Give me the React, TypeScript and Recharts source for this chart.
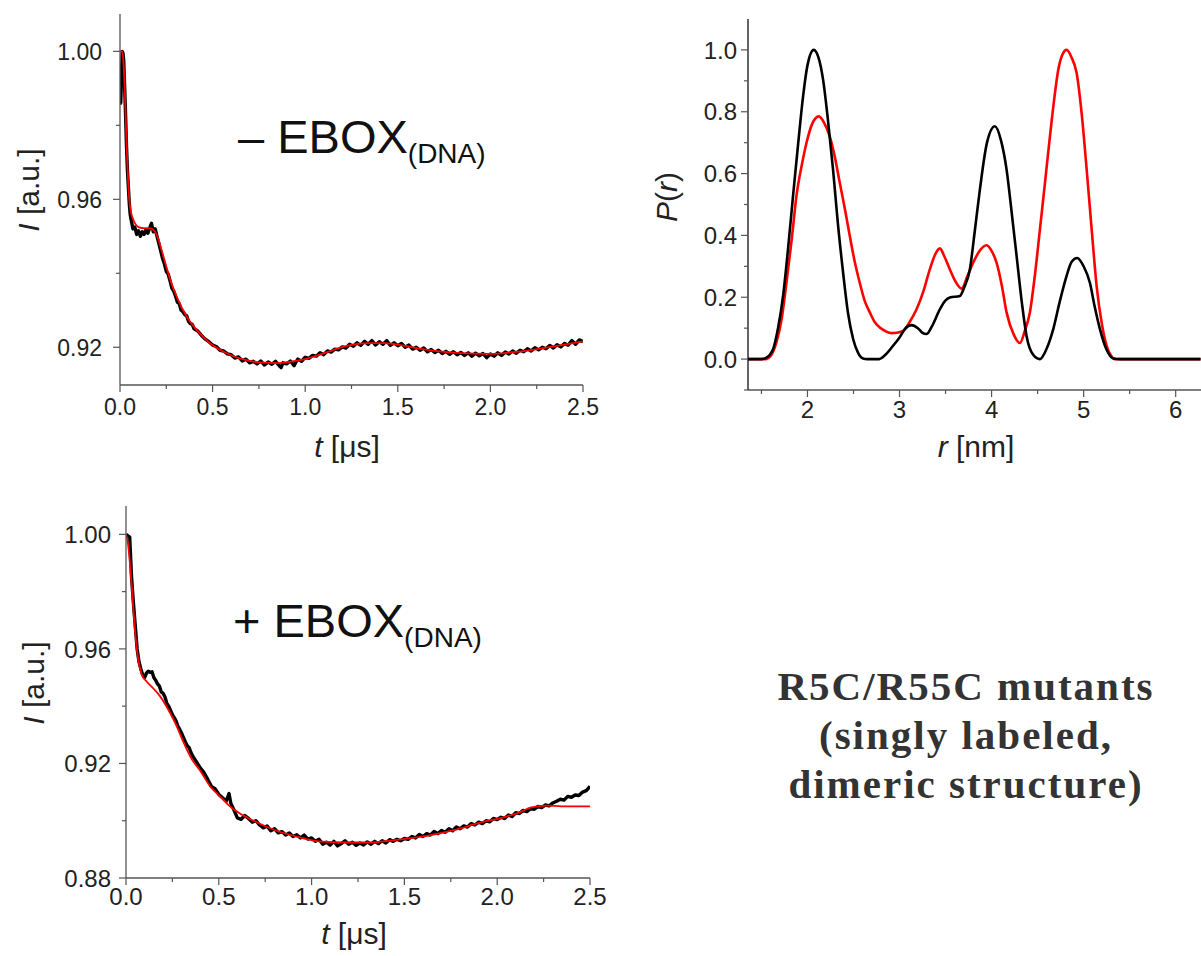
import React from 'react';
import { LineChart, Line, XAxis, YAxis } from 'recharts';

type Pt = [number, number];

const SANS = '"Liberation Sans", Arial, Helvetica, sans-serif';
const SERIF = '"Liberation Serif", "Times New Roman", serif';
const INK = '#222222';
const FRAME = '#555555';
const RED = '#ff0000';
const BLACK = '#000000';

// ---------- Panel A : − EBOX(DNA) time trace ----------
const aTimeMajor = [0, 0.5, 1.0, 1.5, 2.0, 2.5];
const aTimeMinor = [0.25, 0.75, 1.25, 1.75, 2.25];
const aIntMajor = [0.92, 0.96, 1.0];
const aIntMinor = [0.94, 0.98];
const aFit: Pt[] = [
  [0.0, 1.0], [0.012, 1.0], [0.02, 0.996], [0.027, 0.988], [0.036, 0.974], [0.045, 0.964],
  [0.054, 0.958], [0.068, 0.955], [0.081, 0.9535], [0.1, 0.9525], [0.13, 0.9522], [0.16, 0.9522],
  [0.185, 0.9515], [0.205, 0.9495], [0.225, 0.9462], [0.252, 0.9415], [0.28, 0.937], [0.306, 0.9337],
  [0.36, 0.9283], [0.414, 0.9247], [0.486, 0.9211], [0.576, 0.9184], [0.666, 0.9167], [0.756, 0.9159],
  [0.846, 0.9157], [0.92, 0.9161], [1.0, 0.9168], [1.114, 0.9186], [1.218, 0.9203], [1.342, 0.9211],
  [1.425, 0.9211], [1.5, 0.9207], [1.633, 0.9195], [1.737, 0.9188], [1.84, 0.9184], [2.0, 0.9182],
  [2.11, 0.9186], [2.255, 0.9195], [2.36, 0.9204], [2.5, 0.9216],
];
const aData: Pt[] = [
  [0.0, 0.997], [0.004, 0.986], [0.008, 0.993], [0.012, 1.0], [0.016, 0.9995], [0.02, 0.9975],
  [0.025, 0.9905], [0.03, 0.983], [0.035, 0.9745], [0.04, 0.968], [0.045, 0.9635], [0.05, 0.959],
  [0.055, 0.956], [0.06, 0.9545], [0.07, 0.952], [0.08, 0.9525], [0.09, 0.9505], [0.1, 0.9515],
  [0.11, 0.95], [0.12, 0.9512], [0.13, 0.9505], [0.14, 0.9518], [0.15, 0.9508], [0.16, 0.9522],
  [0.17, 0.9535], [0.18, 0.9512], [0.19, 0.952], [0.2, 0.95], [0.21, 0.948], [0.22, 0.946],
  [0.23, 0.944], [0.24, 0.9425], [0.25, 0.9405], [0.26, 0.9398], [0.27, 0.938], [0.28, 0.936],
  [0.29, 0.9352], [0.3, 0.9338], [0.31, 0.9322], [0.32, 0.9318], [0.33, 0.93], [0.34, 0.9296],
  [0.35, 0.9288], [0.36, 0.9285], [0.37, 0.927], [0.38, 0.9264], [0.39, 0.9262], [0.4, 0.925],
  [0.42, 0.9244], [0.44, 0.9232], [0.46, 0.9222], [0.48, 0.9215], [0.5, 0.9206], [0.52, 0.9202],
  [0.54, 0.9192], [0.56, 0.919], [0.58, 0.9182], [0.6, 0.918], [0.62, 0.9171], [0.64, 0.9174],
  [0.66, 0.9163], [0.68, 0.9168], [0.7, 0.9158], [0.72, 0.9162], [0.74, 0.9155], [0.76, 0.9163],
  [0.78, 0.9152], [0.8, 0.916], [0.82, 0.9154], [0.84, 0.9162], [0.86, 0.915], [0.87, 0.9145],
  [0.88, 0.9158], [0.9, 0.9155], [0.92, 0.9163], [0.94, 0.915], [0.95, 0.916], [0.96, 0.9168],
  [0.98, 0.9162], [1.0, 0.9173], [1.02, 0.917], [1.04, 0.9178], [1.06, 0.9176], [1.08, 0.9185],
  [1.1, 0.918], [1.12, 0.919], [1.14, 0.9187], [1.16, 0.9195], [1.18, 0.9193], [1.2, 0.9201],
  [1.22, 0.9198], [1.24, 0.9208], [1.26, 0.9203], [1.28, 0.9212], [1.3, 0.9205], [1.32, 0.9216],
  [1.34, 0.9208], [1.36, 0.9218], [1.38, 0.9206], [1.4, 0.9215], [1.42, 0.9208], [1.44, 0.9218],
  [1.46, 0.9205], [1.48, 0.9212], [1.5, 0.9204], [1.52, 0.921], [1.54, 0.92], [1.56, 0.9206],
  [1.58, 0.9195], [1.6, 0.92], [1.62, 0.9192], [1.64, 0.9198], [1.66, 0.9188], [1.68, 0.9194],
  [1.7, 0.9186], [1.72, 0.9192], [1.74, 0.9183], [1.76, 0.9189], [1.78, 0.9181], [1.8, 0.9188],
  [1.82, 0.918], [1.84, 0.9186], [1.86, 0.9178], [1.88, 0.9185], [1.9, 0.9176], [1.92, 0.9184],
  [1.94, 0.9177], [1.96, 0.9183], [1.98, 0.9172], [2.0, 0.9182], [2.02, 0.9176], [2.04, 0.9185],
  [2.06, 0.9178], [2.08, 0.9187], [2.1, 0.9182], [2.12, 0.919], [2.14, 0.9184], [2.16, 0.9192],
  [2.18, 0.9188], [2.2, 0.9196], [2.22, 0.919], [2.24, 0.9199], [2.26, 0.9193], [2.28, 0.92],
  [2.3, 0.9196], [2.32, 0.9205], [2.34, 0.9198], [2.36, 0.9207], [2.38, 0.9201], [2.4, 0.921],
  [2.42, 0.9206], [2.44, 0.9218], [2.46, 0.9208], [2.48, 0.922], [2.5, 0.9215],
];

// ---------- Panel B : + EBOX(DNA) time trace ----------
const bTimeMajor = [0, 0.5, 1.0, 1.5, 2.0, 2.5];
const bTimeMinor = [0.25, 0.75, 1.25, 1.75, 2.25];
const bIntMajor = [0.88, 0.92, 0.96, 1.0];
const bIntMinor = [0.9, 0.94, 0.98];
const bFit: Pt[] = [
  [0.0, 1.0], [0.01, 0.997], [0.031, 0.9818], [0.048, 0.9667], [0.066, 0.9563], [0.085, 0.951],
  [0.11, 0.9487], [0.15, 0.946], [0.183, 0.9435], [0.237, 0.9377], [0.27, 0.9335], [0.309, 0.9275],
  [0.35, 0.922], [0.399, 0.9175], [0.457, 0.9117], [0.507, 0.9085], [0.56, 0.905], [0.603, 0.903],
  [0.65, 0.9012], [0.707, 0.8994], [0.811, 0.8965], [0.936, 0.8942], [1.04, 0.8928], [1.185, 0.8924],
  [1.31, 0.8924], [1.4, 0.8929], [1.497, 0.8936], [1.622, 0.8947], [1.767, 0.8967], [1.913, 0.8994],
  [2.017, 0.9009], [2.12, 0.9029], [2.183, 0.9047], [2.266, 0.9053], [2.349, 0.905], [2.5, 0.905],
];
const bData: Pt[] = [
  [0.0, 1.0], [0.01, 0.9995], [0.02, 0.999], [0.03, 0.985], [0.04, 0.976], [0.05, 0.968],
  [0.06, 0.96], [0.07, 0.9555], [0.08, 0.953], [0.09, 0.951], [0.1, 0.95], [0.11, 0.9515],
  [0.12, 0.9522], [0.13, 0.9518], [0.14, 0.952], [0.15, 0.95], [0.16, 0.949], [0.17, 0.9478],
  [0.18, 0.947], [0.19, 0.945], [0.2, 0.9445], [0.21, 0.9432], [0.22, 0.941], [0.23, 0.94],
  [0.24, 0.9385], [0.25, 0.937], [0.26, 0.936], [0.27, 0.9348], [0.28, 0.933], [0.29, 0.9318],
  [0.3, 0.9305], [0.31, 0.929], [0.32, 0.9275], [0.33, 0.9262], [0.34, 0.9255], [0.35, 0.9238],
  [0.36, 0.9225], [0.37, 0.9215], [0.38, 0.9205], [0.39, 0.9195], [0.4, 0.9185], [0.42, 0.9168],
  [0.44, 0.9145], [0.46, 0.912], [0.48, 0.9112], [0.5, 0.9092], [0.52, 0.908], [0.54, 0.9068],
  [0.555, 0.9095], [0.565, 0.906], [0.58, 0.904], [0.6, 0.901], [0.62, 0.9005], [0.64, 0.9018],
  [0.66, 0.9008], [0.68, 0.8995], [0.7, 0.9], [0.72, 0.8985], [0.74, 0.8975], [0.76, 0.8982],
  [0.78, 0.8965], [0.8, 0.8972], [0.82, 0.8958], [0.84, 0.8962], [0.86, 0.895], [0.88, 0.8957],
  [0.9, 0.8945], [0.92, 0.8951], [0.94, 0.894], [0.96, 0.895], [0.98, 0.8936], [1.0, 0.894],
  [1.02, 0.8928], [1.04, 0.8935], [1.06, 0.8918], [1.08, 0.8925], [1.1, 0.8915], [1.12, 0.8928],
  [1.14, 0.8912], [1.16, 0.892], [1.18, 0.893], [1.2, 0.8918], [1.22, 0.8925], [1.24, 0.8914],
  [1.26, 0.8922], [1.28, 0.8915], [1.3, 0.8926], [1.32, 0.8918], [1.34, 0.8928], [1.36, 0.892],
  [1.38, 0.893], [1.4, 0.8922], [1.42, 0.8934], [1.44, 0.8928], [1.46, 0.8935], [1.48, 0.893],
  [1.5, 0.8938], [1.52, 0.8935], [1.54, 0.8945], [1.56, 0.894], [1.58, 0.8952], [1.6, 0.8945],
  [1.62, 0.8955], [1.64, 0.895], [1.66, 0.8962], [1.68, 0.8955], [1.7, 0.8966], [1.72, 0.896],
  [1.74, 0.8972], [1.76, 0.8965], [1.78, 0.8978], [1.8, 0.8972], [1.82, 0.8982], [1.84, 0.8978],
  [1.86, 0.899], [1.88, 0.8985], [1.9, 0.8995], [1.92, 0.899], [1.94, 0.9], [1.96, 0.8996],
  [1.98, 0.9008], [2.0, 0.9004], [2.02, 0.9012], [2.04, 0.9008], [2.06, 0.902], [2.08, 0.9015],
  [2.1, 0.9028], [2.12, 0.9025], [2.14, 0.9036], [2.16, 0.9032], [2.18, 0.9042], [2.2, 0.904],
  [2.22, 0.905], [2.24, 0.9046], [2.26, 0.9055], [2.28, 0.9052], [2.3, 0.9062], [2.32, 0.9068],
  [2.34, 0.9075], [2.36, 0.9072], [2.38, 0.9085], [2.4, 0.9082], [2.42, 0.909], [2.44, 0.9088],
  [2.46, 0.91], [2.48, 0.9105], [2.5, 0.912],
];

// ---------- Panel C : distance distributions P(r) ----------
const cRMajor = [2, 3, 4, 5, 6];
const cRMinor = [1.5, 2.5, 3.5, 4.5, 5.5];
const cPMajor = [0.0, 0.2, 0.4, 0.6, 0.8, 1.0];
const cPMinor = [-0.1, 0.1, 0.3, 0.5, 0.7, 0.9];
const cBlack: Pt[] = [
  [1.354, 0], [1.5, 0], [1.55, 0.004], [1.626, 0.032], [1.68, 0.1], [1.735, 0.204], [1.79, 0.36],
  [1.843, 0.527], [1.9, 0.7], [1.952, 0.849], [2.0, 0.95], [2.068, 1.0], [2.12, 0.975], [2.17, 0.903],
  [2.22, 0.78], [2.278, 0.613], [2.33, 0.44], [2.387, 0.28], [2.44, 0.15], [2.496, 0.065], [2.55, 0.02],
  [2.604, 0.002], [2.65, 0], [2.78, 0], [2.85, 0.015], [2.93, 0.043], [3.0, 0.07], [3.06, 0.098],
  [3.13, 0.11], [3.2, 0.1], [3.25, 0.085], [3.293, 0.081], [3.35, 0.105], [3.438, 0.161], [3.5, 0.19],
  [3.547, 0.199], [3.655, 0.204], [3.7, 0.23], [3.764, 0.29], [3.82, 0.42], [3.873, 0.548], [3.95, 0.7],
  [4.036, 0.753], [4.1, 0.71], [4.163, 0.613], [4.22, 0.47], [4.272, 0.333], [4.33, 0.18], [4.38, 0.075],
  [4.45, 0.015], [4.525, 0], [4.6, 0.035], [4.67, 0.097], [4.74, 0.185], [4.815, 0.269], [4.87, 0.315],
  [4.93, 0.327], [5.0, 0.3], [5.068, 0.247], [5.12, 0.17], [5.177, 0.097], [5.25, 0.03], [5.322, 0.002],
  [5.4, 0], [6.27, 0],
];
const cRed: Pt[] = [
  [1.354, 0], [1.55, 0], [1.6, 0.01], [1.663, 0.054], [1.72, 0.13], [1.772, 0.247], [1.83, 0.39],
  [1.88, 0.527], [1.94, 0.63], [1.989, 0.699], [2.05, 0.76], [2.123, 0.785], [2.18, 0.765], [2.242, 0.72],
  [2.3, 0.65], [2.351, 0.57], [2.41, 0.48], [2.46, 0.398], [2.51, 0.32], [2.568, 0.247], [2.62, 0.19],
  [2.677, 0.151], [2.73, 0.12], [2.786, 0.102], [2.85, 0.09], [2.913, 0.084], [2.97, 0.085], [3.039, 0.091],
  [3.11, 0.12], [3.185, 0.161], [3.26, 0.22], [3.329, 0.29], [3.39, 0.34], [3.438, 0.358], [3.49, 0.33],
  [3.547, 0.29], [3.61, 0.25], [3.674, 0.228], [3.74, 0.27], [3.8, 0.312], [3.87, 0.35], [3.946, 0.368],
  [4.0, 0.35], [4.054, 0.312], [4.11, 0.24], [4.163, 0.151], [4.24, 0.08], [4.308, 0.052], [4.36, 0.09],
  [4.416, 0.151], [4.47, 0.27], [4.525, 0.419], [4.58, 0.57], [4.634, 0.72], [4.68, 0.84], [4.724, 0.935],
  [4.77, 0.985], [4.815, 1.0], [4.87, 0.975], [4.924, 0.925], [4.98, 0.79], [5.033, 0.613], [5.09, 0.41],
  [5.141, 0.237], [5.2, 0.11], [5.25, 0.043], [5.3, 0.01], [5.34, 0], [6.27, 0],
];

const titleLines = ['R5C/R55C mutants', '(singly labeled,', 'dimeric structure)'];

// ---------- helpers ----------
const isIn = (arr: number[], v: number) => arr.some((m) => Math.abs(m - v) < 1e-9);

interface Series { data: Pt[]; color: string; width: number; type: 'linear' | 'monotone'; }

interface PanelProps {
  left: number; top: number; width: number; height: number;
  x0: number; x1: number; y0: number; y1: number;
  xDomain: [number, number]; yDomain: [number, number];
  xMajor: number[]; xMinor: number[]; yMajor: number[]; yMinor: number[];
  xFmt: (v: number) => string; yFmt: (v: number) => string;
  fontSize: number; xGap: number; yGap: number;
  rightAxis: boolean; leftStroke: string;
  series: Series[];
}

function Panel(p: PanelProps) {
  const MAJ = 7;
  const MIN = 4;
  const fs = p.fontSize;
  const bottomTick = (t: any) => {
    const v = t.payload.value;
    const major = isIn(p.xMajor, v);
    return (
      <g>
        <line x1={t.x} y1={t.y} x2={t.x} y2={t.y + (major ? MAJ : MIN)} stroke={FRAME} strokeWidth={1.2} />
        {major && (
          <text x={t.x} y={t.y + p.xGap + fs * 0.72} textAnchor="middle" fontFamily={SANS} fontSize={fs} fill={INK}>
            {p.xFmt(v)}
          </text>
        )}
      </g>
    );
  };
  const topTick = (t: any) => {
    const v = t.payload.value;
    const major = isIn(p.xMajor, v);
    return <line x1={t.x} y1={t.y} x2={t.x} y2={t.y + (major ? MAJ : MIN)} stroke={FRAME} strokeWidth={1.2} />;
  };
  const leftTick = (t: any) => {
    const v = t.payload.value;
    const major = isIn(p.yMajor, v);
    return (
      <g>
        <line x1={t.x - (major ? MAJ : MIN)} y1={t.y} x2={t.x} y2={t.y} stroke={FRAME} strokeWidth={1.2} />
        {major && (
          <text x={t.x - p.yGap} y={t.y + fs * 0.36} textAnchor="end" fontFamily={SANS} fontSize={fs} fill={INK}>
            {p.yFmt(v)}
          </text>
        )}
      </g>
    );
  };
  const rightTick = (t: any) => {
    const v = t.payload.value;
    const major = isIn(p.yMajor, v);
    return <line x1={t.x - (major ? MAJ : MIN)} y1={t.y} x2={t.x} y2={t.y} stroke={FRAME} strokeWidth={1.2} />;
  };
  const xTicks = [...p.xMajor, ...p.xMinor].sort((a, b) => a - b);
  const yTicks = [...p.yMajor, ...p.yMinor].sort((a, b) => a - b);
  return (
    <div style={{ position: 'absolute', left: p.left, top: p.top, width: p.width, height: p.height }}>
      <LineChart
        width={p.width}
        height={p.height}
        margin={{ top: p.y0, right: p.width - p.x1, bottom: 0, left: 0 }}
      >
        <XAxis
          xAxisId="b" orientation="bottom" type="number" dataKey="x" domain={p.xDomain} allowDataOverflow
          ticks={xTicks} interval={0} tickSize={0} tickMargin={0} tickLine={false}
          tick={bottomTick} height={p.height - p.y1} axisLine={{ stroke: FRAME, strokeWidth: 1.3 }}
        />
        <XAxis
          xAxisId="t" orientation="top" type="number" dataKey="x" domain={p.xDomain} allowDataOverflow
          ticks={p.xMajor} interval={0} tickSize={0} tickMargin={0} tickLine={false}
          tick={topTick} height={0} axisLine={{ stroke: FRAME, strokeWidth: 1.3 }}
        />
        <YAxis
          yAxisId="l" orientation="left" type="number" domain={p.yDomain} allowDataOverflow
          ticks={yTicks} interval={0} tickSize={0} tickMargin={0} tickLine={false}
          tick={leftTick} width={p.x0} axisLine={{ stroke: p.leftStroke, strokeWidth: 1.3 }}
        />
        {p.rightAxis && (
          <YAxis
            yAxisId="r" orientation="right" type="number" domain={p.yDomain} allowDataOverflow
            ticks={yTicks} interval={0} tickSize={0} tickMargin={0} tickLine={false}
            tick={rightTick} width={0} axisLine={{ stroke: FRAME, strokeWidth: 1.3 }}
          />
        )}
        {p.series.map((s, i) => (
          <Line
            key={i}
            xAxisId="b"
            yAxisId="l"
            data={s.data.map(([x, y]) => ({ x, y }))}
            dataKey="y"
            type={s.type}
            stroke={s.color}
            strokeWidth={s.width}
            dot={false}
            activeDot={false}
            isAnimationActive={false}
            strokeLinejoin="round"
          />
        ))}
      </LineChart>
    </div>
  );
}

const f1 = (v: number) => v.toFixed(1);
const f2 = (v: number) => v.toFixed(2);
const f0 = (v: number) => v.toFixed(0);

export default function App() {
  return (
    <div style={{ position: 'absolute', left: 0, top: 0, width: 1201, height: 956, overflow: 'hidden', background: '#fff' }}>
      <Panel
        left={0} top={0} width={620} height={470}
        x0={120} x1={583} y0={14} y1={385}
        xDomain={[0, 2.5]} yDomain={[0.9098, 1.0101]}
        xMajor={aTimeMajor} xMinor={aTimeMinor} yMajor={aIntMajor} yMinor={aIntMinor}
        xFmt={f1} yFmt={f2} fontSize={23} xGap={13} yGap={18}
        rightAxis leftStroke={FRAME}
        series={[
          { data: aData, color: BLACK, width: 3.4, type: 'linear' },
          { data: aFit, color: RED, width: 1.8, type: 'monotone' },
        ]}
      />
      <Panel
        left={0} top={490} width={620} height={466}
        x0={126} x1={590} y0={16} y1={388}
        xDomain={[0, 2.5]} yDomain={[0.88, 1.0099]}
        xMajor={bTimeMajor} xMinor={bTimeMinor} yMajor={bIntMajor} yMinor={bIntMinor}
        xFmt={f1} yFmt={f2} fontSize={24} xGap={10} yGap={15}
        rightAxis leftStroke={FRAME}
        series={[
          { data: bData, color: BLACK, width: 3.4, type: 'linear' },
          { data: bFit, color: RED, width: 1.8, type: 'monotone' },
        ]}
      />
      <Panel
        left={640} top={0} width={561} height={470}
        x0={108} x1={561} y0={19} y1={390}
        xDomain={[1.354, 6.275]} yDomain={[-0.1, 1.1]}
        xMajor={cRMajor} xMinor={cRMinor} yMajor={cPMajor} yMinor={cPMinor}
        xFmt={f0} yFmt={f1} fontSize={24} xGap={11} yGap={11}
        rightAxis={false} leftStroke={'#111'}
        series={[
          { data: cRed, color: RED, width: 2.6, type: 'monotone' },
          { data: cBlack, color: BLACK, width: 2.6, type: 'monotone' },
        ]}
      />
      <svg width={1201} height={956} style={{ position: 'absolute', left: 0, top: 0, pointerEvents: 'none' }}>
        <g fontFamily={SANS} fill={INK} fontSize={30}>
          <text x={347} y={457} textAnchor="middle"><tspan fontStyle="italic">t</tspan> [μs]</text>
          <text x={354} y={944} textAnchor="middle"><tspan fontStyle="italic">t</tspan> [μs]</text>
          <text x={976} y={457} textAnchor="middle"><tspan fontStyle="italic">r</tspan> [nm]</text>
          <text transform="translate(39,190) rotate(-90)" textAnchor="middle"><tspan fontStyle="italic">I</tspan> [a.u.]</text>
          <text transform="translate(44,683) rotate(-90)" textAnchor="middle"><tspan fontStyle="italic">I</tspan> [a.u.]</text>
          <text transform="translate(677,197) rotate(-90)" textAnchor="middle"><tspan fontStyle="italic">P</tspan>(<tspan fontStyle="italic">r</tspan>)</text>
        </g>
        <g fontFamily={SANS} fill="#111">
          <text x={238} y={153} fontSize={47}>– EBOX<tspan fontSize={28} dy={10}>(DNA)</tspan></text>
          <text x={233} y={637} fontSize={47}>+ EBOX<tspan fontSize={28} dy={10}>(DNA)</tspan></text>
        </g>
        <g fontFamily={SERIF} fontWeight="bold" fill="#333" fontSize={41} letterSpacing={2}>
          {titleLines.map((l, i) => (
            <text key={i} x={966} y={700 + i * 49} textAnchor="middle">{l}</text>
          ))}
        </g>
      </svg>
    </div>
  );
}
